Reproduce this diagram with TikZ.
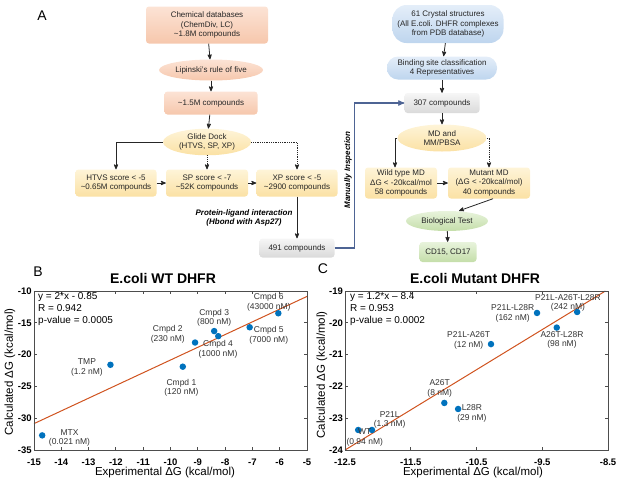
\documentclass[tikz,border=0pt]{standalone}
\usepackage{fontspec}
\setmainfont{Liberation Sans}
\usepackage{xcolor}
\usepackage{tikz}
\usetikzlibrary{arrows,shapes.geometric}
\definecolor{peachtop}{HTML}{FCE3D5}
\definecolor{peachbot}{HTML}{F6C7AC}
\definecolor{yeltop}{HTML}{FEF4D8}
\definecolor{yelbot}{HTML}{FBE1A4}
\definecolor{bluetop}{HTML}{E4EEF9}
\definecolor{bluebot}{HTML}{BED5EE}
\definecolor{graytop}{HTML}{F6F6F6}
\definecolor{graybot}{HTML}{DADADA}
\definecolor{greentop}{HTML}{E8F3DC}
\definecolor{greenbot}{HTML}{C4DEA9}
\definecolor{inspblue}{HTML}{4E6494}
\definecolor{dotblue}{HTML}{0072BD}
\definecolor{fitred}{HTML}{D0531F}
\definecolor{axgray}{HTML}{4D4D4D}
\tikzset{
  flow/.style = {align=center, inner sep=1pt, text=black!85,
    font=\fontsize{8}{9.3}\selectfont},
  flowbox/.style = {flow, rectangle, rounded corners=3pt},
  flowoval/.style = {flow, ellipse},
  peach/.style = {top color=peachtop, bottom color=peachbot},% chemical library
  yel/.style = {top color=yeltop, bottom color=yelbot},% docking and MD
  blu/.style = {top color=bluetop, bottom color=bluebot},% crystal structures
  gry/.style = {top color=graytop, bottom color=graybot},% hit lists
  grn/.style = {top color=greentop, bottom color=greenbot},% tests
  flowarrow/.style = {->, >=stealth', line width=0.8pt, black!85},
  dotarrow/.style = {flowarrow, densely dotted},
  note/.style = {align=center, font=\fontsize{8}{9}\selectfont\bfseries\itshape},
  panel/.style = {font=\fontsize{14}{14}\selectfont, inner sep=0pt},
  plottitle/.style = {font=\fontsize{14}{14}\selectfont\bfseries, inner sep=0pt},
  axlabel/.style = {font=\fontsize{11.5}{12}\selectfont, inner sep=0pt},
  ticklab/.style = {font=\fontsize{9.5}{10}\selectfont\bfseries, inner sep=0pt},
  axisframe/.style = {axgray, line width=0.9pt},
  fitline/.style = {fitred, line width=1pt},
  datadot/.style = {circle, fill=dotblue, inner sep=0pt, minimum size=6.5pt},
  ptlabel/.style = {align=center, inner sep=0pt, text=black!80,
    font=\fontsize{8.5}{9.6}\selectfont},
  fitnote/.style = {align=left, inner sep=0pt, anchor=north west,
    font=\fontsize{10}{12}\selectfont}
}
\begin{document}
\begin{tikzpicture}[x=1pt, y=-1pt]
\useasboundingbox (0,0) rectangle (617,483);
% ---- panel A: screening flow ----
\node[panel] (lblA) at (42,16) {A};
\node[flowbox, peach, minimum width=122pt, minimum height=37pt] (chem) at (207,25)
  {Chemical databases\\(ChemDiv, LC)\\\textasciitilde1.8M compounds};
\node[flowoval, peach, minimum width=104pt, minimum height=21pt] (lipinski) at (211,70)
  {Lipinski's rule of five};
\node[flowbox, peach, minimum width=93pt, minimum height=23pt] (m15) at (211,103)
  {\textasciitilde1.5M compounds};
\node[flowoval, yel, minimum width=88pt, minimum height=24pt] (glide) at (207,142)
  {Glide Dock\\(HTVS, SP, XP)};
\node[flowbox, yel, minimum width=81pt, minimum height=27pt] (htvs) at (116,183)
  {HTVS score < -5\\\textasciitilde0.65M compounds};
\node[flowbox, yel, minimum width=82pt, minimum height=27pt] (sp) at (207,183)
  {SP score < -7\\\textasciitilde52K compounds};
\node[flowbox, yel, minimum width=81pt, minimum height=27pt] (xp) at (297,183)
  {XP score < -5\\\textasciitilde2900 compounds};
\node[flowbox, gry, minimum width=75pt, minimum height=19pt] (c491) at (297,248)
  {491 compounds};
\node[note, anchor=east] (hbond) at (296,218)
  {Protein-ligand interaction\\(Hbond with Asp27)};

\node[flowbox, blu, rounded corners=14pt, minimum width=111pt, minimum height=38pt] (crystal) at (448,24)
  {61 Crystal structures\\(All E.coli. DHFR complexes\\from PDB database)};
\node[flowbox, blu, rounded corners=11pt, minimum width=110pt, minimum height=23pt] (binding) at (442,68)
  {Binding site classification\\4 Representatives};
\node[flowbox, gry, minimum width=75pt, minimum height=20pt] (c307) at (442,103)
  {307 compounds};
\node[flowoval, yel, minimum width=89pt, minimum height=27pt] (md) at (442,138)
  {MD and\\MM/PBSA};
\node[flowbox, yel, minimum width=72pt, minimum height=31pt] (wild) at (401,183)
  {Wild type MD\\ΔG < -20kcal/mol\\58 compounds};
\node[flowbox, yel, minimum width=82pt, minimum height=31pt] (mutant) at (489,183)
  {Mutant MD\\(ΔG < -20kcal/mol)\\40 compounds};
\node[flowoval, grn, minimum width=82pt, minimum height=20pt] (bio) at (447,221)
  {Biological Test};
\node[flowbox, grn, minimum width=57pt, minimum height=20pt] (cd) at (448,252)
  {CD15, CD17};
\node[note, rotate=90] (manual) at (348,170) {Manually Inspection};

\draw[flowarrow] (chem) -- (lipinski);
\draw[flowarrow] (lipinski) -- (m15);
\draw[flowarrow] (m15) -- (glide);
\draw[flowarrow] (glide.west) -| (htvs.north);
\draw[dotarrow] (glide) -- (sp);
\draw[dotarrow] (glide.east) -| (xp.north);
\draw[flowarrow] (htvs) -- (sp);
\draw[flowarrow] (sp) -- (xp);
\draw[flowarrow] (xp) -- (c491);
\draw[->, >=stealth', inspblue, line width=1.2pt] (c491.east) -- ++(20,0) |- (c307.west);
\draw[flowarrow] (crystal) -- (binding);
\draw[flowarrow] (binding) -- (c307);
\draw[flowarrow] (c307) -- (md);
\draw[flowarrow] (md.west) -| ([xshift=-6pt]wild.north);
\draw[dotarrow] (md.east) -| (mutant.north);
\draw[flowarrow] (wild) -- (mutant);
\draw[flowarrow] ([xshift=4pt]mutant.south) -- ([xshift=12pt]bio.north);
\draw[flowarrow] (bio) -- (cd);

% ---- panel B: wild type ----
\node[panel] (lblB) at (38,272) {B};
\node[plottitle] (titleB) at (163,278) {E.coli WT DHFR};
\node[axlabel] (xlabB) at (165,473) {Experimental ΔG (kcal/mol)};
\node[axlabel, rotate=90] (ylabB) at (10,372) {Calculated ΔG (kcal/mol)};
\begin{scope}[shift={(443.5pt,-227.4pt)}, x=27.3pt, y=6.36pt]
  \draw[fitline] (-15,-30.85) -- (-5,-10.85);
  \draw[axisframe] (-15,-35) rectangle (-5,-10);
  \foreach \t in {-15,...,-5}{
    \draw[axisframe] (\t,-35) -- ++(0,0.47) (\t,-10) -- ++(0,-0.47);
    \node[ticklab] (bx\t) at (\t,-36.9) {\t};
  }
  \foreach \t in {-10,-15,...,-35}{
    \draw[axisframe] (-15,\t) -- ++(0.11,0) (-5,\t) -- ++(-0.11,0);
    \node[ticklab, anchor=east] (by\t) at (-15.08,\t) {\t};
  }
  \node[datadot] (mtx) at (-14.7,-32.7) {};
  \node[datadot] (tmp) at (-12.2,-21.6) {};
  \node[datadot] (cp1) at (-9.55,-21.9) {};
  \node[datadot] (cp2) at (-9.1,-18.1) {};
  \node[datadot] (cp3) at (-8.4,-16.3) {};
  \node[datadot] (cp4) at (-8.25,-17.1) {};
  \node[datadot] (cp5) at (-7.1,-15.7) {};
  \node[datadot] (cp6) at (-6.05,-13.5) {};
  \node[ptlabel] (mtxlab) at (-13.7,-33.1) {MTX\\(0.021 nM)};
  \node[ptlabel] (tmplab) at (-13.06,-22.0) {TMP\\(1.2 nM)};
  \node[ptlabel] (cp1lab) at (-9.6,-25.2) {Cmpd 1\\(120 nM)};
  \node[ptlabel] (cp2lab) at (-10.1,-16.8) {Cmpd 2\\(230 nM)};
  \node[ptlabel] (cp3lab) at (-8.4,-14.2) {Cmpd 3\\(800 nM)};
  \node[ptlabel] (cp4lab) at (-8.26,-19.2) {Cmpd 4\\(1000 nM)};
  \node[ptlabel] (cp5lab) at (-6.4,-17.0) {Cmpd 5\\(7000 nM)};
  \node[ptlabel] (cp6lab) at (-6.4,-11.75) {Cmpd 6\\(43000 nM)};
\end{scope}
\node[fitnote] (fitB) at (38,292) {y = 2*x - 0.85\\R = 0.942\\p-value = 0.0005};

% ---- panel C: mutants ----
\node[panel] (lblC) at (323,269) {C};
\node[plottitle] (titleC) at (475,278) {E.coli Mutant DHFR};
\node[axlabel] (xlabC) at (473,473) {Experimental ΔG (kcal/mol)};
\node[axlabel, rotate=90] (ylabC) at (322,375) {Calculated ΔG (kcal/mol)};
\begin{scope}[shift={(1166.9pt,313.2pt)}, x=65.75pt, y=31.8pt]
  \draw[fitline] (-12.5,-24) -- (-8.54,-19);
  \draw[axisframe] (-12.5,-24) rectangle (-8.5,-19);
  \foreach \t in {-12.5,-11.5,-10.5,-9.5,-8.5}{
    \draw[axisframe] (\t,-24) -- ++(0,0.094) (\t,-19) -- ++(0,-0.094);
    \node[ticklab] (cx\t) at (\t,-24.38) {\t};
  }
  \foreach \t in {-19,...,-24}{
    \draw[axisframe] (-12.5,\t) -- ++(0.046,0) (-8.5,\t) -- ++(-0.046,0);
    \node[ticklab, anchor=east] (cy\t) at (-12.53,\t) {\t};
  }
  \node[datadot] (wt) at (-12.3,-23.37) {};
  \node[datadot] (p21l) at (-12.09,-23.37) {};
  \node[datadot] (a26t) at (-10.99,-22.52) {};
  \node[datadot] (l28r) at (-10.78,-22.71) {};
  \node[datadot] (pa) at (-10.28,-20.67) {};
  \node[datadot] (pl) at (-9.58,-19.69) {};
  \node[datadot] (al) at (-9.28,-20.15) {};
  \node[datadot] (pal) at (-8.97,-19.66) {};
  \node[ptlabel] (wtlab) at (-12.2,-23.6) {WT\\(0.94 nM)};
  \node[ptlabel] (p21llab) at (-11.82,-23.05) {P21L\\(1.3 nM)};
  \node[ptlabel] (a26tlab) at (-11.06,-22.07) {A26T\\(8 nM)};
  \node[ptlabel] (l28rlab) at (-10.57,-22.85) {L28R\\(29 nM)};
  \node[ptlabel] (palab) at (-10.62,-20.55) {P21L-A26T\\(12 nM)};
  \node[ptlabel] (pllab) at (-9.95,-19.71) {P21L-L28R\\(162 nM)};
  \node[ptlabel] (allab) at (-9.2,-20.54) {A26T-L28R\\(98 nM)};
  \node[ptlabel] (pallab) at (-9.11,-19.37) {P21L-A26T-L28R\\(242 nM)};
\end{scope}
\node[fitnote] (fitC) at (350,292) {y = 1.2*x – 8.4\\R = 0.953\\p-value = 0.0002};
\end{tikzpicture}
\end{document}
